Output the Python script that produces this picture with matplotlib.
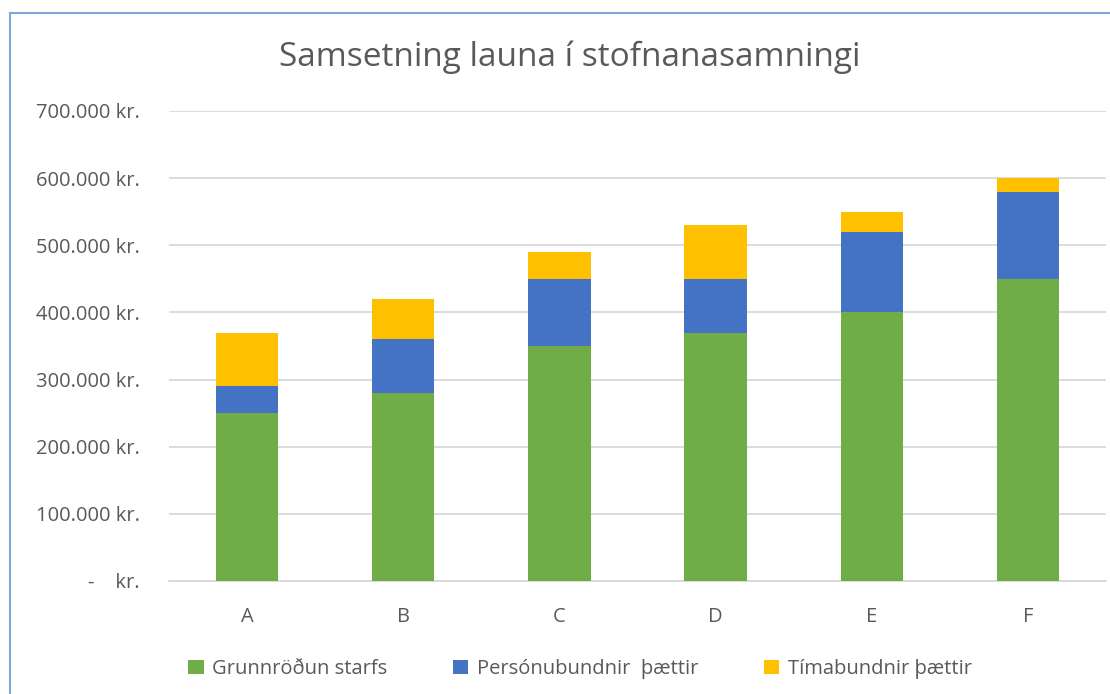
import matplotlib
matplotlib.use("Agg")
import matplotlib.pyplot as plt
from matplotlib.lines import Line2D
from matplotlib.ticker import FuncFormatter

categories = ["A", "B", "C", "D", "E", "F"]
grunn = [250000, 280000, 350000, 370000, 400000, 450000]
personu = [40000, 80000, 100000, 80000, 120000, 130000]
timab = [80000, 60000, 40000, 80000, 30000, 20000]
series_names = ["Grunnröðun starfs", "Persónubundnir  þættir", "Tímabundnir þættir"]
colors = ["#70AD47", "#4472C4", "#FFC000"]
title = "Samsetning launa í stofnanasamningi"

plt.rcParams['font.family'] = ['Open Sans', 'DejaVu Sans']
txt = "#595959"

fig = plt.figure(figsize=(11.1, 6.94), dpi=100)
ax = fig.add_axes([169/1110, 1-581/694, (1106-169)/1110, (581-111)/694])

x = range(len(categories))
bottom = [0]*len(categories)
for vals, name, c in zip([grunn, personu, timab], series_names, colors):
    ax.bar(x, vals, bottom=bottom, width=0.4, color=c, label=name, zorder=3)
    bottom = [b+v for b, v in zip(bottom, vals)]

ax.set_ylim(0, 700000)
ax.set_xlim(-0.5, len(categories)-0.5)
ax.set_yticks(range(0, 700001, 100000))

def fmt(v, pos):
    if v == 0:
        return "-    kr."
    return f"{int(v):,}".replace(",", ".") + " kr."
ax.yaxis.set_major_formatter(FuncFormatter(fmt))
ax.set_xticks(list(x))
ax.set_xticklabels(categories)
ax.grid(axis='y', color="#D9D9D9", linewidth=1.3, zorder=0)
for s in ["top", "right", "left"]:
    ax.spines[s].set_visible(False)
ax.spines["bottom"].set_color("#D9D9D9")
ax.spines["bottom"].set_linewidth(1.3)
ax.tick_params(axis='both', length=0, colors=txt, labelsize=14.5)
ax.tick_params(axis='y', pad=21)
ax.tick_params(axis='x', pad=19)

fig.text(570/1110, 1-57/694, title, ha='center', va='center', fontsize=24, color=txt)

leg = fig.legend(loc='center', bbox_to_anchor=(580/1110, 1-669/694), ncol=3, frameon=False,
                 fontsize=14.5, labelcolor=txt, handlelength=0.75, handleheight=0.75,
                 handletextpad=0.4, columnspacing=3.3)

fig.add_artist(Line2D([10/1110, 10/1110], [0, 1-13/694], color="#7BA7D9", linewidth=1.5))
fig.add_artist(Line2D([10/1110, 1], [1-13/694, 1-13/694], color="#7BA7D9", linewidth=1.5))

fig.savefig("out.png", dpi=100)
